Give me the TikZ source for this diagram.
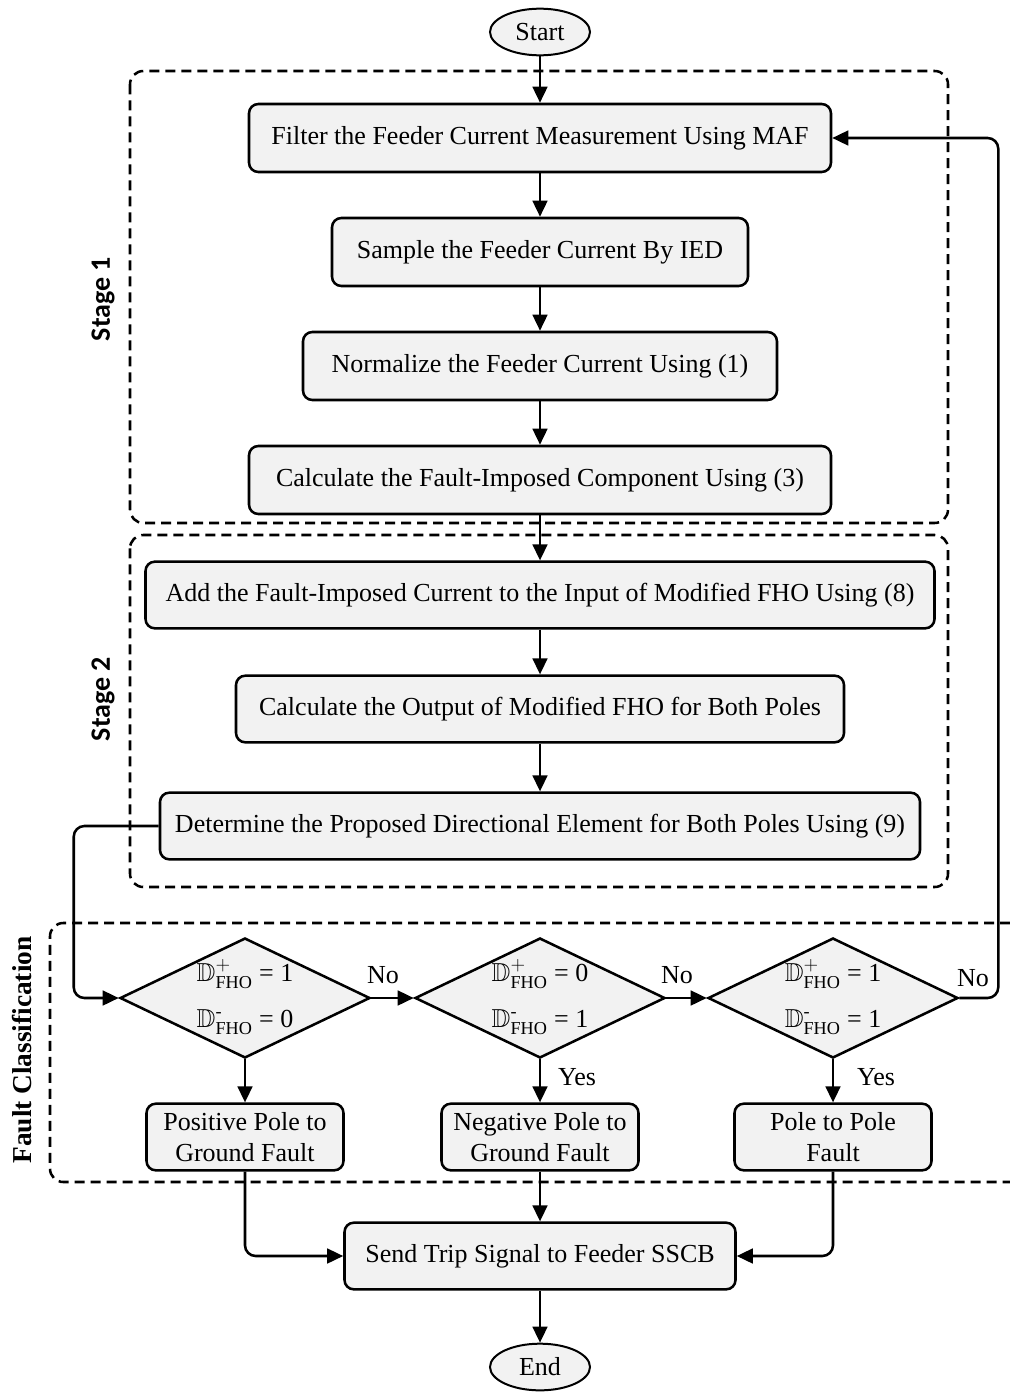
\documentclass[tikz,border=0pt]{standalone}
\usepackage{amsmath}
\usepackage{amssymb}
\usepackage{fontspec}
\setmainfont{Liberation Serif}
\newfontfamily\stagefont{Carlito}
\usetikzlibrary{shapes.geometric,arrows.meta,calc}
\definecolor{boxgray}{HTML}{F2F2F2}
\newcommand{\DF}[2]{$\mathbb{D}^{#1}_{\text{FHO}}$ = #2}
\begin{document}
\begin{tikzpicture}[x=0.75pt,y=-0.75pt,
  every node/.style={font=\fontsize{19.5}{23}\selectfont},
  proc/.style={draw, line width=1.9pt, rounded corners=7pt, fill=boxgray, inner sep=0pt, align=center},
  term/.style={ellipse, draw, line width=1.5pt, fill=boxgray, minimum width=75pt, minimum height=35pt, inner sep=0pt},
  dec/.style={diamond, draw, line width=1.9pt, fill=boxgray, minimum width=187.5pt, minimum height=90pt, inner sep=0pt},
  dtxt/.style={inner sep=0pt},
  stagebox/.style={draw, line width=1.9pt, rounded corners=10pt, dash pattern=on 7.5pt off 4.5pt},
  arr/.style={-{Triangle[length=12pt,width=11pt]}, line width=1.9pt, rounded corners=8pt},
  lbl/.style={inner sep=1pt}]
\useasboundingbox (0,0) rectangle (1010,1392);

% dashed groups
\draw[stagebox] (130,71) rectangle (948,523);
\draw[stagebox] (130,535) rectangle (948,887);
\draw[stagebox] (1010,923) -- (50,923) -- (50,1182) -- (1010,1182);
\node[rotate=90, font=\stagefont\bfseries\fontsize{21}{23}\selectfont] (s1) at (103,299) {Stage 1};
\node[rotate=90, font=\stagefont\bfseries\fontsize{21}{23}\selectfont] (s2) at (103,699) {Stage 2};
\node[rotate=90, font=\bfseries\fontsize{20.5}{23}\selectfont] (fc) at (22,1050) {Fault Classification};

% nodes
\node[term] (start) at (540,32) {Start};
\node[proc, minimum width=436.5pt, minimum height=51pt] (b1) at (540,138) {Filter the Feeder Current Measurement Using MAF};
\node[proc, minimum width=312pt, minimum height=51pt] (b2) at (540,252) {Sample the Feeder Current By IED};
\node[proc, minimum width=355.5pt, minimum height=51pt] (b3) at (540,366) {Normalize the Feeder Current Using (1)};
\node[proc, minimum width=436.5pt, minimum height=51pt] (b4) at (540,480) {Calculate the Fault-Imposed Component Using (3)};
\node[proc, minimum width=591.75pt, minimum height=50pt] (b5) at (540,595) {Add the Fault-Imposed Current to the Input of Modified FHO Using (8)};
\node[proc, minimum width=456pt, minimum height=50pt] (b6) at (540,709) {Calculate the Output of Modified FHO for Both Poles};
\node[proc, minimum width=570pt, minimum height=50pt] (b7) at (540,826) {Determine the Proposed Directional Element for Both Poles Using (9)};

\node[dec] (d1) at (245,998) {};
\node[dec] (d2) at (540,998) {};
\node[dec] (d3) at (833,998) {};
\node[dtxt] (d1a) at (245,974) {\DF{+}{1}};
\node[dtxt] (d1b) at (245,1022) {\DF{\text{-}}{0}};
\node[dtxt] (d2a) at (540,974) {\DF{+}{0}};
\node[dtxt] (d2b) at (540,1022) {\DF{\text{-}}{1}};
\node[dtxt] (d3a) at (833,974) {\DF{+}{1}};
\node[dtxt] (d3b) at (833,1022) {\DF{\text{-}}{1}};

\node[proc, minimum width=147.75pt, minimum height=50pt] (p1) at (245,1137) {Positive Pole to\\Ground Fault};
\node[proc, minimum width=147.75pt, minimum height=50pt] (p2) at (540,1137) {Negative Pole to\\Ground Fault};
\node[proc, minimum width=147.75pt, minimum height=50pt] (p3) at (833,1137) {Pole to Pole\\Fault};

\node[proc, minimum width=293.25pt, minimum height=50pt] (send) at (540,1256) {Send Trip Signal to Feeder SSCB};
\node[term] (end) at (540,1367) {End};

% connectors
\draw[arr] (start) -- (b1);
\draw[arr] (b1) -- (b2);
\draw[arr] (b2) -- (b3);
\draw[arr] (b3) -- (b4);
\draw[arr] (b4) -- (b5);
\draw[arr] (b5) -- (b6);
\draw[arr] (b6) -- (b7);
\draw[arr] (b7.west) -- ++(-85,0) |- (d1.west);
\draw[arr] (d1.east) -- (d2.west);
\draw[arr] (d2.east) -- (d3.west);
\draw[arr] (d3.east) -- ++(39,0) |- (b1.east);
\draw[arr] (d1.south) -- (p1.north);
\draw[arr] (d2.south) -- (p2.north);
\draw[arr] (d3.south) -- (p3.north);
\draw[arr] (p1.south) |- (send.west);
\draw[arr] (p2.south) -- (send.north);
\draw[arr] (p3.south) |- (send.east);
\draw[arr] (send) -- (end);

% labels
\node[lbl] (no1) at (383,975) {No};
\node[lbl] (no2) at (677,975) {No};
\node[lbl] (no3) at (973,978) {No};
\node[lbl] (yes2) at (577,1077) {Yes};
\node[lbl] (yes3) at (876,1077) {Yes};
\end{tikzpicture}
\end{document}
